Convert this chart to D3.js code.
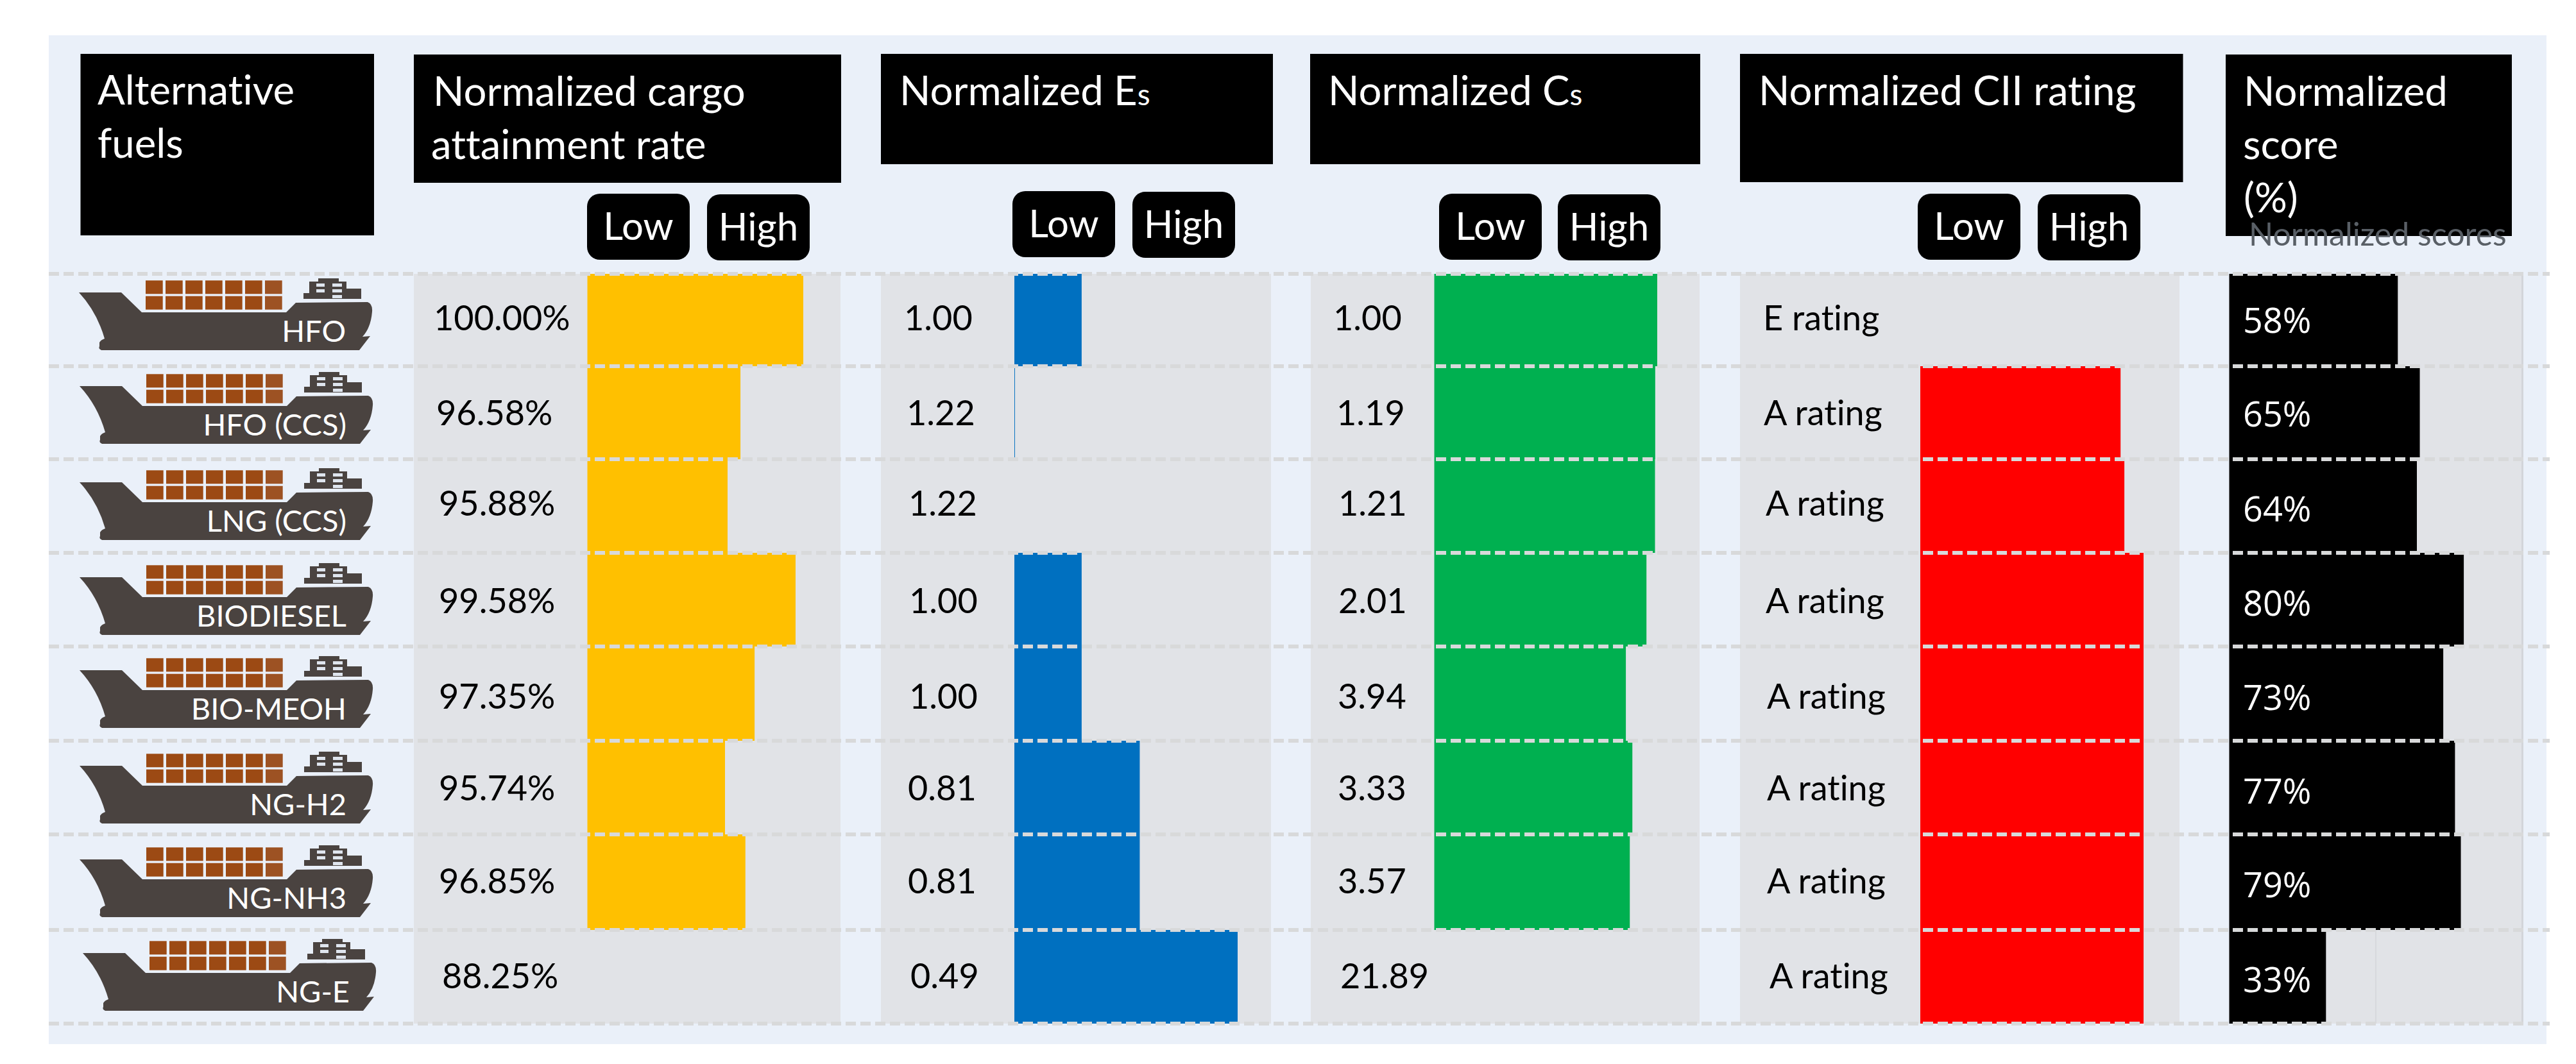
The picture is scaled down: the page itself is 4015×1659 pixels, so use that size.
<!DOCTYPE html>
<html>
<head>
<meta charset="utf-8">
<script src="https://cdn.jsdelivr.net/npm/d3@7"></script>
<style>
  html, body { margin: 0; padding: 0; background: #fff; }
  svg { display: block; }
  text { font-family: Lato, "Open Sans", sans-serif; font-variant-ligatures: none; }
</style>
</head>
<body>
<div id="chart"></div>
<script>
// values
const fuels = ["HFO", "HFO (CCS)", "LNG (CCS)", "BIODIESEL", "BIO-MEOH", "NG-H2", "NG-NH3", "NG-E"];
const cargoRates = [100.0, 96.58, 95.88, 99.58, 97.35, 95.74, 96.85, 88.25];
const esValues = [1.0, 1.218, 1.22, 1.0, 1.0, 0.81, 0.81, 0.49];
const csValues = [1.0, 1.19, 1.21, 2.01, 3.94, 3.33, 3.57, 21.89];
const ciiLabels = ["E rating", "A rating", "A rating", "A rating", "A rating", "A rating", "A rating", "A rating"];
const ciiValues = [0, 0.897, 0.914, 1, 1, 1, 1, 1];
const scores = [57.5, 65, 64, 80, 73, 77, 79, 33];
const scoreGridTicks = [50, 100];
const lowHigh = ["Low", "High"];

// layout, all in page pixels
const width = 4015;
const height = 1659;
const rowEdges = [427, 571, 716, 862, 1008, 1155, 1301, 1450, 1596];
const valueBaselines = [515, 663, 804, 956, 1105, 1248, 1393, 1541];
const scoreBaselines = [519, 665, 813, 960, 1107, 1253, 1399, 1547];
const shipBottoms = [546, 692, 842, 990, 1135, 1284, 1430, 1576];
const shipLefts = [123, 124, 124, 124, 124, 124, 124, 129];
const textFont = 54;

const svg = d3
  .select("#chart")
  .append("svg")
  .attr("width", width)
  .attr("height", height);

svg
  .append("rect")
  .attr("x", 76)
  .attr("y", 55)
  .attr("width", 3893)
  .attr("height", 1573)
  .attr("fill", "#eaf0f9");

const rowTop = d3.scaleOrdinal().domain(fuels).range(rowEdges.slice(0, 8));
const rowBottom = d3.scaleOrdinal().domain(fuels).range(rowEdges.slice(1));

const columns = [
  {
    panel: [645, 1310],
    bar: "#ffc000",
    values: cargoRates,
    scale: d3.scaleLinear().domain([88.25, 100]).range([915.5, 1252]),
    labels: cargoRates.map((d) => d3.format(".2f")(d) + "%"),
    labelX: [676, 680, 684, 684, 684, 684, 684, 689],
  },
  {
    panel: [1373, 1981],
    bar: "#0070c0",
    values: esValues,
    scale: d3.scaleLinear().domain([1.22, 0.49]).range([1581, 1929]),
    labels: esValues.map((d) => d3.format(".2f")(d)),
    labelX: [1409, 1413, 1416, 1417, 1417, 1415, 1415, 1419],
  },
  {
    panel: [2043, 2649],
    bar: "#00b050",
    values: csValues,
    scale: d3.scaleLinear().domain([21.89, 1]).range([2235.5, 2583]),
    labels: csValues.map((d) => d3.format(".2f")(d)),
    labelX: [2078, 2083, 2086, 2086, 2085, 2085, 2085, 2089],
  },
  {
    panel: [2712, 3397],
    bar: "#ff0000",
    values: ciiValues,
    scale: d3.scaleLinear().domain([0, 1]).range([2993, 3341]),
    labels: ciiLabels,
    labelX: [2748, 2749, 2752, 2752, 2754, 2754, 2754, 2758],
  },
];

const scoreScale = d3.scaleLinear().domain([0, 100]).range([3474.5, 3931.5]);

// grey panels behind the bars
svg
  .append("g")
  .selectAll("rect")
  .data(columns.map((c) => c.panel).concat([scoreScale.range()]))
  .join("rect")
  .attr("x", (d) => d[0])
  .attr("y", rowEdges[0])
  .attr("width", (d) => d[1] - d[0])
  .attr("height", rowEdges[8] - rowEdges[0])
  .attr("fill", "#e1e3e7");

svg
  .append("g")
  .selectAll("line")
  .data(scoreGridTicks)
  .join("line")
  .attr("x1", (d) => scoreScale(d))
  .attr("x2", (d) => scoreScale(d))
  .attr("y1", rowEdges[0])
  .attr("y2", rowEdges[8])
  .attr("stroke", "#d3d5da")
  .attr("stroke-width", (d) => (d === 100 ? 3 : 1.5));

// bars
columns.forEach((col) => {
  svg
    .append("g")
    .selectAll("rect")
    .data(col.values)
    .join("rect")
    .attr("x", col.scale.range()[0])
    .attr("y", (d, i) => rowTop(fuels[i]))
    .attr("width", (d) => col.scale(d) - col.scale.range()[0])
    .attr("height", (d, i) => rowBottom(fuels[i]) - rowTop(fuels[i]))
    .attr("fill", col.bar);
});

svg
  .append("g")
  .selectAll("rect")
  .data(scores)
  .join("rect")
  .attr("x", scoreScale(0))
  .attr("y", (d, i) => rowTop(fuels[i]))
  .attr("width", (d) => scoreScale(d) - scoreScale(0))
  .attr("height", (d, i) => rowBottom(fuels[i]) - rowTop(fuels[i]))
  .attr("fill", "#000");

// dashed row separators lie over the bars
svg
  .append("g")
  .selectAll("line")
  .data(rowEdges)
  .join("line")
  .attr("x1", 76)
  .attr("x2", 3974)
  .attr("y1", (d) => d)
  .attr("y2", (d) => d)
  .attr("stroke", "#d8d9da")
  .attr("stroke-width", 6)
  .attr("stroke-dasharray", "16 7");

// value labels
columns.forEach((col) => {
  svg
    .append("g")
    .selectAll("text")
    .data(col.labels)
    .join("text")
    .attr("x", (d, i) => col.labelX[i])
    .attr("y", (d, i) => valueBaselines[i])
    .attr("font-size", textFont)
    .attr("fill", "#000")
    .text((d) => d);
});

svg
  .append("g")
  .selectAll("text")
  .data(scores)
  .join("text")
  .attr("x", 3496)
  .attr("y", (d, i) => scoreBaselines[i])
  .attr("font-size", 54)
  .style("font-family", "'Open Sans', sans-serif")
  .attr("fill", "#fff")
  .text((d) => d3.format(".0f")(d) + "%");

// ship icons, hull outline is relative to its lower left corner
const hull =
  "M0,-90 L66,-90 L98,-59 L323,-59 L338,-74 L450,-75 Q458,-72 457,-60 Q455,-35 442,-21 L454,-22 L437,0 " +
  "L35,0 Q30,-2 32,-6 L32,-12 Q34,-16 40,-18 Q28,-60 0,-90 Z";
const bridge = "M350,-80 L350,-89 L359,-89 L359,-107 L373,-107 L373,-112 L405,-112 L405,-107 L417,-107 L417,-96 L440,-96 L440,-80 Z";
const containerCols = d3.range(7);
const containerRows = [-108.7, -84.3];
const windows = [
  [370, -104, 13, 5],
  [370, -95, 13, 5],
  [395, -104, 15, 5],
  [395, -95, 15, 5],
  [395, -86, 15, 5],
];

const ships = svg
  .append("g")
  .selectAll("g")
  .data(fuels)
  .join("g")
  .attr("transform", (d, i) => `translate(${shipLefts[i]},${shipBottoms[i]})`);

ships.append("path").attr("d", hull).attr("fill", "#4a4340");
ships.append("path").attr("d", bridge).attr("fill", "#4a4340");

ships.each(function () {
  const ship = d3.select(this);
  containerRows.forEach((top) => {
    containerCols.forEach((c) => {
      ship
        .append("rect")
        .attr("x", 104 + 31 * c)
        .attr("y", top)
        .attr("width", 26.7)
        .attr("height", 21)
        .attr("fill", c === 6 ? "#9d5223" : "#9c4a14");
    });
  });
  windows.forEach((w) => {
    ship
      .append("rect")
      .attr("x", w[0])
      .attr("y", w[1])
      .attr("width", w[2])
      .attr("height", w[3])
      .attr("fill", "#dfe5ee");
  });
});

ships
  .append("text")
  .attr("x", 416)
  .attr("y", -13)
  .attr("text-anchor", "end")
  .attr("font-size", 47)
  .attr("fill", "#fff")
  .text((d) => d);

// black header boxes
const headers = [
  { x: 125.5, y: 84, w: 457.5, h: 283, lines: [["Alternative", 152, 163], ["fuels", 152, 246]] },
  { x: 645, y: 85, w: 666, h: 200, lines: [["Normalized cargo", 675, 165], ["attainment rate", 672, 248]] },
  { x: 1373, y: 84, w: 611, h: 172, lines: [["Normalized E", 1402, 164, "s"]] },
  { x: 2042, y: 84, w: 608, h: 172, lines: [["Normalized C", 2070, 164, "s"]] },
  { x: 2712, y: 84, w: 690.5, h: 200, lines: [["Normalized CII rating", 2741, 164]] },
  { x: 3469, y: 85, w: 446, h: 283, lines: [["Normalized", 3497, 165], ["score", 3496, 248], ["(%)", 3497, 331]] },
];

const headerGroups = svg.append("g").selectAll("g").data(headers).join("g");

headerGroups
  .append("rect")
  .attr("x", (d) => d.x)
  .attr("y", (d) => d.y)
  .attr("width", (d) => d.w)
  .attr("height", (d) => d.h)
  .attr("fill", "#000");

headerGroups.each(function (d) {
  d.lines.forEach((l) => {
    const t = d3
      .select(this)
      .append("text")
      .attr("x", l[1])
      .attr("y", l[2])
      .attr("font-size", 63.5)
      .attr("fill", "#fff")
      .text(l[0]);
    if (l[3]) t.append("tspan").attr("font-size", 46).text(l[3]);
  });
});

svg
  .append("text")
  .attr("x", 3505)
  .attr("y", 383)
  .attr("font-size", 50)
  .attr("fill", "#595f66")
  .text("Normalized scores");

// Low / High keys above each bar column
const keyBoxes = [
  { low: [915, 302], high: [1102, 303] },
  { low: [1578, 298], high: [1765, 299] },
  { low: [2243, 302], high: [2428, 303] },
  { low: [2989, 302], high: [3176, 303] },
];

keyBoxes.forEach((k) => {
  [k.low, k.high].forEach((pos, i) => {
    svg
      .append("rect")
      .attr("x", pos[0])
      .attr("y", pos[1])
      .attr("width", 160)
      .attr("height", 103)
      .attr("rx", 20)
      .attr("fill", "#000");
    svg
      .append("text")
      .attr("x", pos[0] + 80)
      .attr("y", pos[1] + 72)
      .attr("text-anchor", "middle")
      .attr("font-size", 60)
      .attr("fill", "#fff")
      .text(lowHigh[i]);
  });
});
</script>
</body>
</html>
